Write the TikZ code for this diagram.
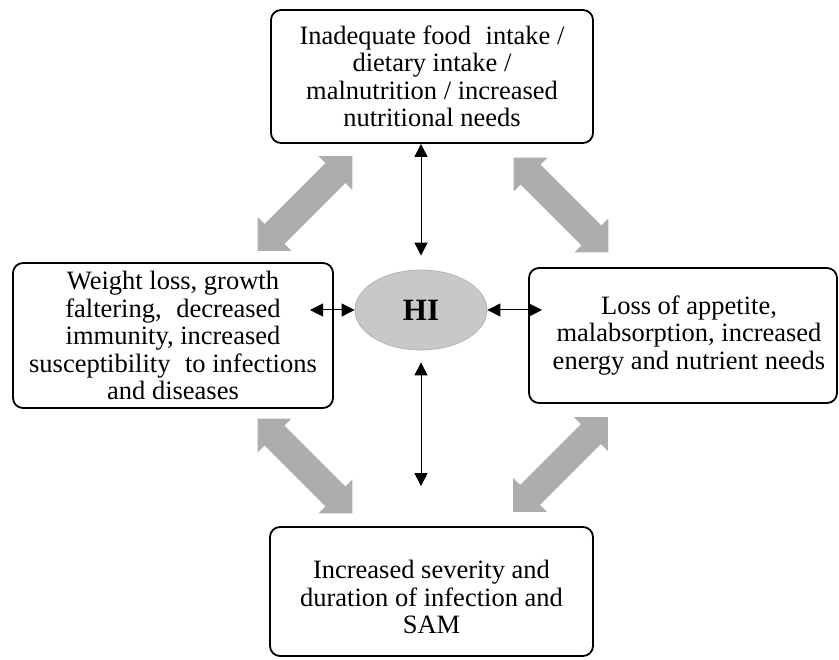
\documentclass[tikz,border=0pt]{standalone}
\usepackage{fontspec}
\setmainfont{Liberation Serif}
\usetikzlibrary{arrows.meta,shapes.geometric}
\definecolor{blockgray}{HTML}{ADADAD}
\definecolor{hubfill}{HTML}{C8C8C8}
\definecolor{hubline}{HTML}{B4B4B4}
\begin{document}
\begin{tikzpicture}[x=1pt,y=-1pt,
  box/.style={draw=black, line width=1.8pt, rounded corners=10pt, fill=white,
    align=center, font=\fontsize{26.5}{27.5}\selectfont, inner sep=0pt},
  hub/.style={ellipse, draw=hubline, line width=0.8pt, fill=hubfill,
    inner sep=0pt, minimum width=132pt, minimum height=80pt,
    font=\fontsize{31}{34}\selectfont\bfseries},
  link/.style={line width=1pt,
    {Triangle[length=13pt,width=13pt]}-{Triangle[length=13pt,width=13pt]}},
  pics/bigarrow/.style={code={
    \fill[blockgray] (-67,0) -- (-43,-24) -- (-43,-14) -- (43,-14) -- (43,-24)
      -- (67,0) -- (43,24) -- (43,14) -- (-43,14) -- (-43,24) -- cycle;}}
  ]
\useasboundingbox (0,0) rectangle (839,660);

% wide grey two-way arrows between the outer boxes
\pic[rotate=45]  at (305,203.5) {bigarrow};
\pic[rotate=-45] at (561,205)   {bigarrow};
\pic[rotate=-45] at (305,466)   {bigarrow};
\pic[rotate=45]  at (560.5,464.5) {bigarrow};

% outer boxes
\node[box, minimum width=322pt, minimum height=133pt] (top) at (432,76.5)
  {Inadequate food\hspace{0.3em} intake /\\dietary intake /\\malnutrition / increased\\nutritional needs};
\node[box, minimum width=320pt, minimum height=145pt] (left) at (173,335.5)
  {Weight loss, growth\\faltering,\hspace{0.3em} decreased\\immunity, increased\\susceptibility\hspace{0.3em} to infections\\and diseases};
\node[box, minimum width=308pt, minimum height=135pt] (right) at (683,335.5)
  {\hspace*{12pt}Loss of appetite,\\\hspace*{12pt}malabsorption, increased\\\hspace*{12pt}energy and nutrient needs};
\node[box, minimum width=323pt, minimum height=129pt] (bottom) at (431.5,591.5)
  {\rule{0pt}{30pt}Increased severity and\\duration of infection and\\SAM};

% central ellipse
\node[hub] (hub) at (421,310) {HI};

% free ends of the side links
\coordinate (lend) at (310,310);
\coordinate (rend) at (542,310);

% thin two-way links
\draw[link, shorten >=14pt] (hub |- top.south) -- (hub.north);
\draw[link, shorten <=12pt, shorten >=40pt] (hub.south) -- (hub |- bottom.north);
\draw[link] (lend) -- (hub.west);
\draw[link] (hub.east) -- (rend);
\end{tikzpicture}
\end{document}
